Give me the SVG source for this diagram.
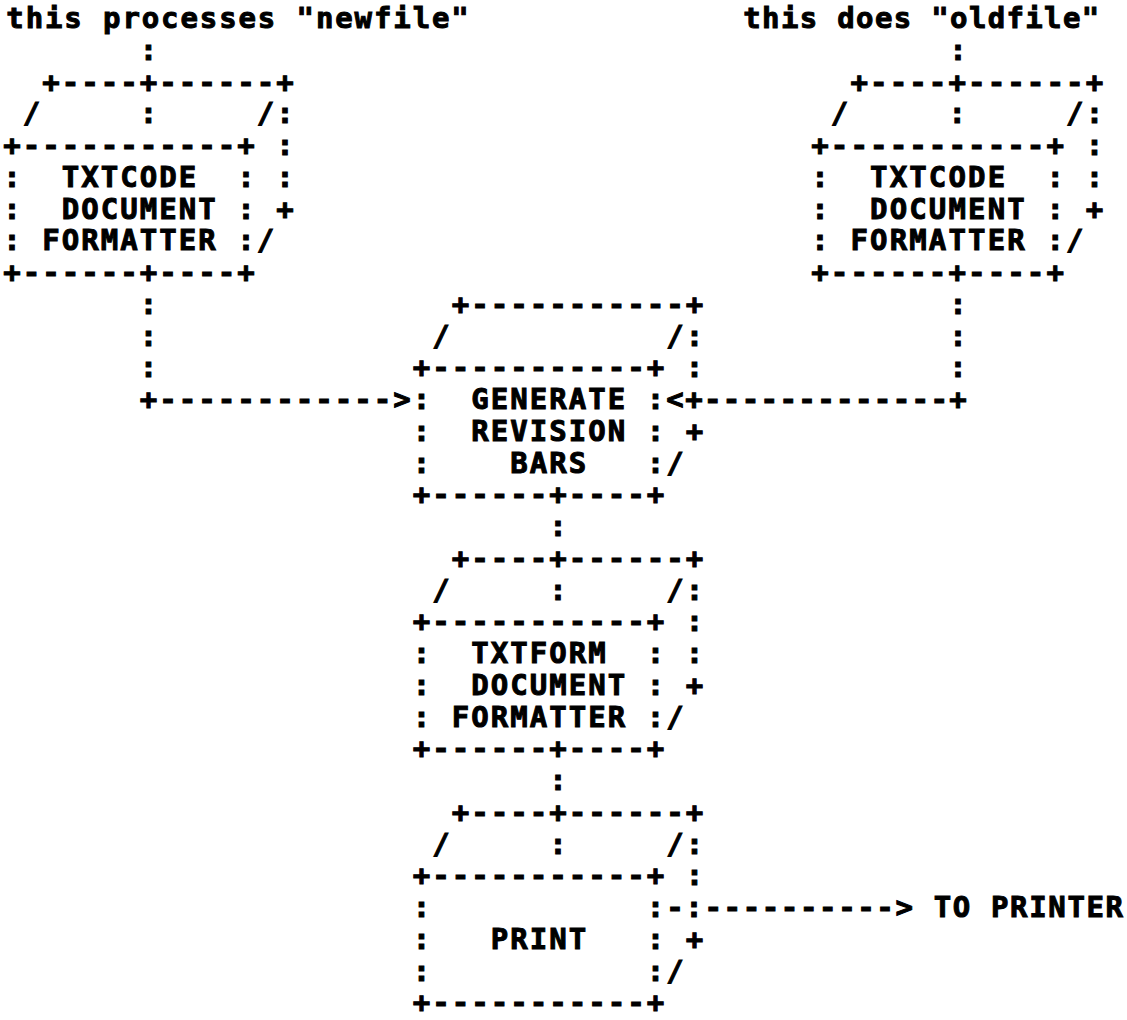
<svg xmlns="http://www.w3.org/2000/svg" width="1127" height="1020" viewBox="0 0 1127 1020" xml:space="preserve">
<style>
.t { font-family: "DejaVu Sans Mono", "Liberation Mono", monospace; font-size: 29px; font-weight: bold; fill: #000; stroke: #000; stroke-width: 1px; white-space: pre; letter-spacing: 2.04px; }
.r { letter-spacing: 2.14px; }
</style>
<rect x="0" y="0" width="1127" height="1020" fill="#fff"/>
<g id="label-newfile">
<text class="t" x="6.3" y="28" style="letter-spacing:1.89px">this processes "newfile"</text>
</g>
<g id="label-oldfile">
<text class="t" x="743.3" y="28" style="letter-spacing:1.34px">this does "oldfile"</text>
</g>
<g id="node-txtcode-new">
<text class="t" x="42.27" y="91.5">+----+------+</text>
<text class="t" x="22.77" y="123.25">/     :     /:</text>
<text class="t" x="3.27" y="155">+-----------+ :</text>
<text class="t" x="3.27" y="186.75">:  TXTCODE  : :</text>
<text class="t" x="3.27" y="218.5">:  DOCUMENT : +</text>
<text class="t" x="3.27" y="250.25">: FORMATTER :/</text>
<text class="t" x="3.27" y="282">+------+----+</text>
</g>
<g id="node-txtcode-old">
<text class="t r" x="850.47" y="91.5">+----+------+</text>
<text class="t r" x="830.87" y="123.25">/     :     /:</text>
<text class="t r" x="811.27" y="155">+-----------+ :</text>
<text class="t r" x="811.27" y="186.75">:  TXTCODE  : :</text>
<text class="t r" x="811.27" y="218.5">:  DOCUMENT : +</text>
<text class="t r" x="811.27" y="250.25">: FORMATTER :/</text>
<text class="t r" x="811.27" y="282">+------+----+</text>
</g>
<g id="node-generate">
<text class="t" x="451.77" y="313.75">+-----------+</text>
<text class="t" x="432.27" y="345.5">/           /:</text>
<text class="t" x="412.77" y="377.25">+-----------+ :</text>
<text class="t" x="412.77" y="409">:  GENERATE :</text>
<text class="t" x="412.77" y="440.75">:  REVISION : +</text>
<text class="t" x="412.77" y="472.5">:    BARS   :/</text>
<text class="t" x="412.77" y="504.25">+------+----+</text>
</g>
<g id="node-txtform">
<text class="t" x="451.77" y="567.75">+----+------+</text>
<text class="t" x="432.27" y="599.5">/     :     /:</text>
<text class="t" x="412.77" y="631.25">+-----------+ :</text>
<text class="t" x="412.77" y="663">:  TXTFORM  : :</text>
<text class="t" x="412.77" y="694.75">:  DOCUMENT : +</text>
<text class="t" x="412.77" y="726.5">: FORMATTER :/</text>
<text class="t" x="412.77" y="758.25">+------+----+</text>
</g>
<g id="node-print">
<text class="t" x="451.77" y="821.75">+----+------+</text>
<text class="t" x="432.27" y="853.5">/     :     /:</text>
<text class="t" x="412.77" y="885.25">+-----------+ :</text>
<text class="t" x="412.77" y="917">:           :</text>
<text class="t" x="412.77" y="948.75">:   PRINT   : +</text>
<text class="t" x="412.77" y="980.5">:           :/</text>
<text class="t" x="412.77" y="1012.25">+-----------+</text>
</g>
<g id="label-to-printer">
<text class="t" x="933.7" y="917" style="letter-spacing:1.64px">TO PRINTER</text>
</g>
<g id="connectors">
<text class="t" x="139.77" y="59.75">:</text>
<text class="t" x="949.27" y="59.75">:</text>
<text class="t" x="139.77" y="313.75">:</text>
<text class="t" x="139.77" y="345.5">:</text>
<text class="t" x="139.77" y="377.25">:</text>
<text class="t" x="949.27" y="313.75">:</text>
<text class="t" x="949.27" y="345.5">:</text>
<text class="t" x="949.27" y="377.25">:</text>
<text class="t" x="139.77" y="409">+------------&gt;</text>
<text class="t" x="666.27" y="409" style="letter-spacing:1.41px">&lt;+-------------+</text>
<text class="t" x="549.27" y="536">:</text>
<text class="t" x="549.27" y="790">:</text>
<text class="t" x="666.27" y="917" style="letter-spacing:1.64px">-:----------&gt;</text>
</g>
</svg>
